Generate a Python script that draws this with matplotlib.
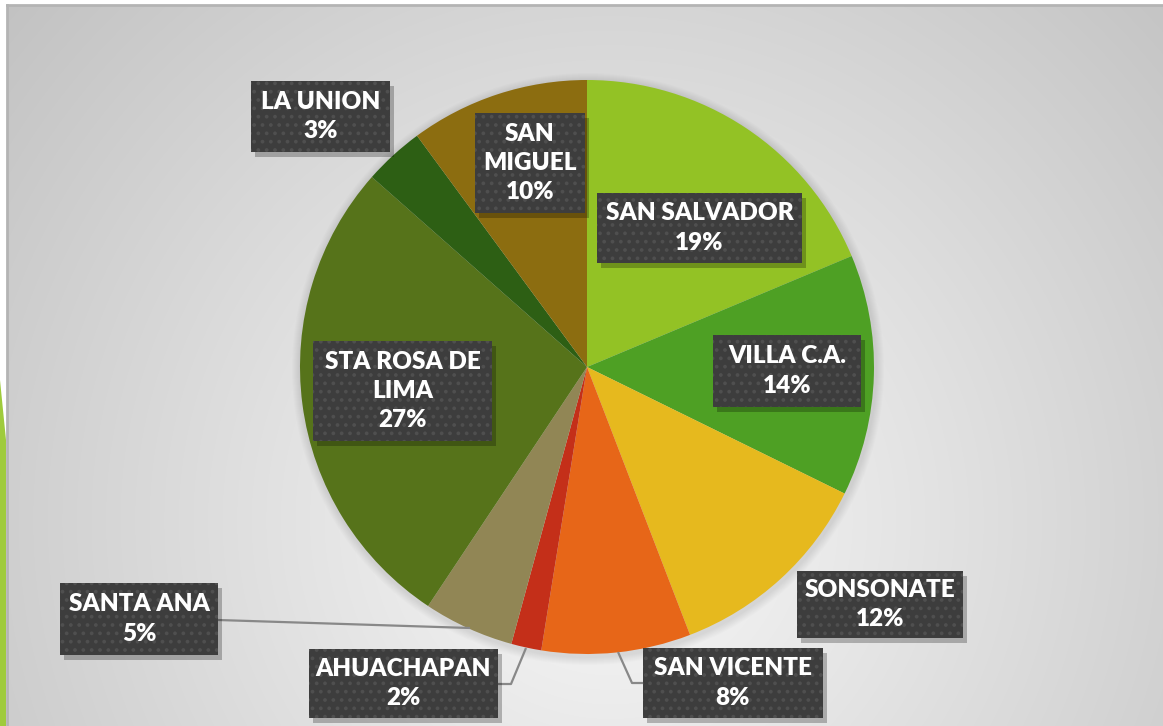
import numpy as np
import matplotlib
matplotlib.use("Agg")
import matplotlib.pyplot as plt
from matplotlib.patches import Rectangle, Polygon, Circle

# departamentos y porcentaje
regiones = ["SAN SALVADOR", "VILLA C.A.", "SONSONATE", "SAN VICENTE", "AHUACHAPAN",
            "SANTA ANA", "STA ROSA DE\nLIMA", "LA UNION", "SAN\nMIGUEL"]
valores = [18.7, 13.6, 11.9, 8.4, 1.7, 5.1, 27.2, 3.4, 10.1]
colores = ["#93C225", "#4EA024", "#E6B91E", "#E76618", "#C42F19",
           "#918655", "#56731A", "#2D5F14", "#8C6D10"]

W, H = 1163, 726
# cajas de etiquetas (x0, y0, x1, y1) en pixeles, y hacia abajo
cajas = [(597, 193, 802, 263), (713, 335, 861, 407), (797, 571, 963, 638),
         (643, 648, 823, 718), (309, 649, 498, 718), (60, 583, 218, 655),
         (313, 341, 492, 441), (251, 81, 390, 152), (475, 113, 585, 213)]

plt.rcParams["hatch.linewidth"] = 1.5


def Y(y):
    return H - y


fig = plt.figure(figsize=(W / 100, H / 100), dpi=100)
ax = fig.add_axes([0, 0, 1, 1])
ax.set_xlim(0, W)
ax.set_ylim(0, H)
ax.axis("off")

# fondo con degradado radial
xx, yy = np.meshgrid(np.arange(7, W), np.arange(5, H))
d = np.hypot(xx - 610, yy - 520) / 780.0
g = np.clip(0.975 - 0.21 * d, 0, 1)
ax.imshow(np.dstack([g, g, g]), extent=(7, W, Y(H), Y(5)), origin="upper",
          zorder=0, aspect="auto")
ax.plot([7, W], [Y(5), Y(5)], color="#b4b4b4", lw=2, zorder=1)
ax.plot([7, 7], [Y(5), Y(H)], color="#b4b4b4", lw=2, zorder=1)
ax.add_patch(Polygon([(0, Y(380)), (6, Y(440)), (6, 0), (0, 0)],
                     closed=True, color="#9FCB3C", zorder=1, lw=0))

cx, cy, r = 587, Y(367), 287
# sombra suave del pastel
for k in range(8):
    ax.add_patch(Circle((cx + 1, cy - 2), r + 9 - k, color="#000000",
                        alpha=0.012, lw=0, zorder=1.5))

wedges, _ = ax.pie(valores, colors=colores, startangle=90, counterclock=False,
                   center=(cx, cy), radius=r, frame=True,
                   wedgeprops=dict(linewidth=0))
for w in wedges:
    w.set_zorder(2)
ax.set_xlim(0, W)
ax.set_ylim(0, H)
ax.set_aspect("auto")
ax.axis("off")

# lineas guia
guia = dict(color="#888888", lw=1.6, zorder=3, solid_capstyle="butt")
ax.plot([218, 470], [Y(620), Y(628)], **guia)
ax.plot([498, 511, 526], [Y(684), Y(684), Y(648)], **guia)
ax.plot([618, 632, 643], [Y(652), Y(683), Y(683)], **guia)

total = sum(valores)
for nombre, v, (x0, y0, x1, y1) in zip(regiones, valores, cajas):
    # sombra
    ax.add_patch(Rectangle((x0 + 4, Y(y1) - 5), x1 - x0, y1 - y0,
                           color="#000000", alpha=0.25, lw=0, zorder=4))
    ax.add_patch(Rectangle((x0, Y(y1)), x1 - x0, y1 - y0, facecolor="#3d3d3d",
                           edgecolor="#4f4f4f", hatch="..", lw=0, zorder=5))
    texto = f"{nombre}\n{round(v / total * 100):.0f}%"
    ax.text((x0 + x1) / 2, Y((y0 + y1) / 2), texto, color="white",
            fontsize=17.5, fontweight="heavy", family=["Lato", "DejaVu Sans"],
            ha="center", va="center", linespacing=1.4, zorder=6)

fig.savefig("out.png", dpi=100)
